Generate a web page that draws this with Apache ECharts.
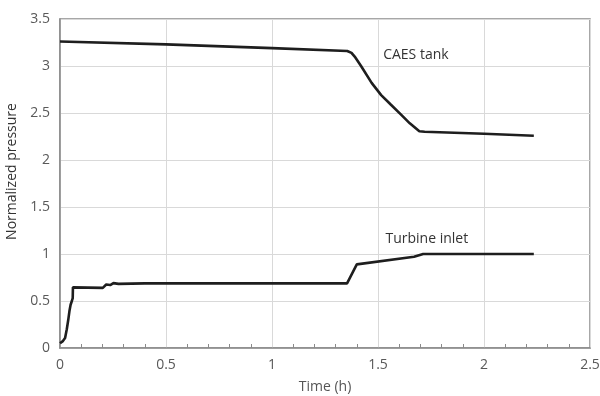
<!DOCTYPE html>
<html>
<head>
<meta charset="utf-8">
<script src="https://cdn.jsdelivr.net/npm/echarts@6/dist/echarts.min.js"></script>
<style>html,body{margin:0;padding:0;background:#fff}#c{width:600px;height:396px}</style>
</head>
<body>
<div id="c"></div>
<script>
// CAES tank normalized pressure: [time (h), pressure]
const caesTime = [0, 0.5, 1.0, 1.355, 1.375, 1.39, 1.42, 1.47, 1.515, 1.56, 1.61, 1.65, 1.695, 1.72, 2.0, 2.235];
const caesPressure = [3.26, 3.23, 3.19, 3.16, 3.14, 3.10, 3.00, 2.82, 2.69, 2.59, 2.48, 2.39, 2.305, 2.30, 2.28, 2.258];

// Turbine inlet normalized pressure
const turbTime = [0, 0.012, 0.024, 0.032, 0.039, 0.045, 0.05, 0.056, 0.06, 0.061, 0.202, 0.218, 0.237, 0.252, 0.276, 0.4, 1.0, 1.354, 1.40, 1.67, 1.713, 2.0, 2.235];
const turbPressure = [0.05, 0.07, 0.106, 0.2, 0.30, 0.40, 0.46, 0.5, 0.53, 0.645, 0.64, 0.675, 0.67, 0.69, 0.682, 0.688, 0.688, 0.688, 0.89, 0.97, 1.0, 1.0, 1.0];

// Text annotations
const annotTexts = ['CAES tank', 'Turbine inlet'];
const annotCoords = [[1.522, 3.117], [1.533, 1.16]];

// Axis ticks
const xTicks = [0, 0.5, 1, 1.5, 2, 2.5];
const yTicks = [0, 0.5, 1, 1.5, 2, 2.5, 3, 3.5];

const zip = (a, b) => a.map((v, i) => [v, b[i]]);
const font = 'Open Sans';
const chart = echarts.init(document.getElementById('c'), null, {renderer: 'canvas'});
const lineStyle = {color: '#1e1e1e', width: 2.6};
function annot(i) {
  return {
    symbol: 'circle',
    symbolSize: 1,
    silent: true,
    itemStyle: {color: 'rgba(0,0,0,0)'},
    data: [{coord: annotCoords[i], value: 1}],
    label: {show: true, position: 'right', distance: 0, formatter: annotTexts[i],
      color: '#333', fontFamily: font, fontSize: 14}
  };
}
chart.setOption({
  animation: false,
  backgroundColor: '#fff',
  grid: {left: 60, right: 10, top: 19, bottom: 48, containLabel: false, outerBoundsMode: 'none',
    show: true, borderColor: '#8a8a8a', borderWidth: 1.5, backgroundColor: 'transparent'},
  xAxis: {
    type: 'value', min: xTicks[0], max: xTicks[xTicks.length - 1], interval: 0.5,
    name: 'Time (h)', nameLocation: 'middle', nameGap: 32,
    nameTextStyle: {color: '#555', fontFamily: font, fontSize: 14},
    axisLine: {show: true, lineStyle: {color: '#8a8a8a', width: 1.5}},
    axisTick: {show: false, inside: true, length: 4, lineStyle: {color: '#8a8a8a'}},
    minorTick: {show: true, splitNumber: 5, length: 4, lineStyle: {color: '#8a8a8a', width: 1}},
    axisLabel: {color: '#595959', fontFamily: font, fontSize: 14, margin: 10,
      formatter: v => String(v)},
    splitLine: {show: true, lineStyle: {color: '#d9d9d9', width: 1}}
  },
  yAxis: {
    type: 'value', min: yTicks[0], max: yTicks[yTicks.length - 1], interval: 0.5,
    name: 'Normalized pressure', nameLocation: 'middle', nameGap: 41,
    nameTextStyle: {color: '#333', fontFamily: font, fontSize: 14, padding: [0, 0, 0, 24]},
    axisLine: {show: true, lineStyle: {color: '#8a8a8a', width: 1.5}},
    axisTick: {show: false},
    axisLabel: {color: '#595959', fontFamily: font, fontSize: 14, margin: 10,
      formatter: v => String(v)},
    splitLine: {show: true, lineStyle: {color: '#d9d9d9', width: 1}}
  },
  series: [
    {type: 'line', name: 'CAES tank', data: zip(caesTime, caesPressure), showSymbol: false, symbol: 'none',
      lineStyle: lineStyle, itemStyle: {color: '#1e1e1e'}, markPoint: annot(0)},
    {type: 'line', name: 'Turbine inlet', data: zip(turbTime, turbPressure), showSymbol: false, symbol: 'none',
      lineStyle: lineStyle, itemStyle: {color: '#1e1e1e'}, markPoint: annot(1)}
  ]
});
</script>
</body>
</html>
